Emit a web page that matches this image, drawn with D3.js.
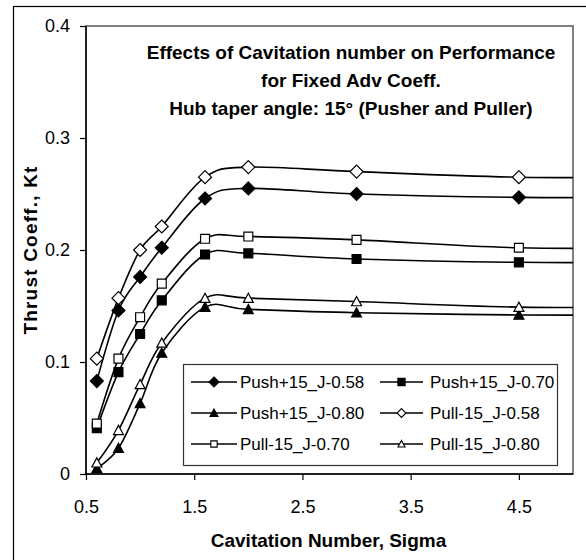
<!DOCTYPE html>
<html>
<head>
<meta charset="utf-8">
<script src="https://cdn.jsdelivr.net/npm/d3@7"></script>
<style>
  body { margin: 0; background: #fff; }
  text { font-family: "Liberation Sans", Arial, sans-serif; fill: #000; }
</style>
</head>
<body>
<div id="chart"></div>
<script>
// Data
const sigma = [0.6, 0.8, 1.0, 1.2, 1.6, 2.0, 3.0, 4.5];
// the curves run on flat past the axis end
const sigmaTail = 6.0;

const push058 = [0.083, 0.146, 0.176, 0.202, 0.246, 0.255, 0.250, 0.247];
const push070 = [0.041, 0.091, 0.125, 0.155, 0.196, 0.197, 0.192, 0.189];
const push080 = [0.005, 0.023, 0.063, 0.108, 0.149, 0.147, 0.144, 0.142];
const pull058 = [0.103, 0.157, 0.200, 0.221, 0.265, 0.274, 0.270, 0.265];
const pull070 = [0.045, 0.103, 0.140, 0.170, 0.210, 0.212, 0.209, 0.202];
const pull080 = [0.010, 0.039, 0.080, 0.117, 0.157, 0.157, 0.154, 0.149];

const seriesNames = ["Push+15_J-0.58", "Push+15_J-0.70", "Push+15_J-0.80",
                     "Pull-15_J-0.58", "Pull-15_J-0.70", "Pull-15_J-0.80"];
const seriesValues = [push058, push070, push080, pull058, pull070, pull080];
const seriesShapes = ["diamond", "square", "triangle", "diamond", "square", "triangle"];
const seriesFilled = [true, true, true, false, false, false];
// legend is filled row by row, two columns
const legendOrder = [0, 1, 2, 3, 4, 5];

const xTicks = [0.5, 1.5, 2.5, 3.5, 4.5];
const yTicks = [0, 0.1, 0.2, 0.3, 0.4];

const titleLines = ["Effects of Cavitation number on Performance",
                    "for Fixed Adv Coeff.",
                    "Hub taper angle: 15\u00b0 (Pusher and Puller)"];
const xTitle = "Cavitation Number, Sigma";
const yTitle = "Thrust Coeff., Kt";

const W = 586, H = 560;
const plot = {left: 86, top: 26, right: 573, bottom: 474};

const svg = d3.select("#chart").append("svg")
    .attr("width", W)
    .attr("height", H);

// outer chart frame (runs off the picture on right and bottom)
svg.append("rect")
    .attr("x", 13.5).attr("y", 6.5)
    .attr("width", W + 20).attr("height", H + 20)
    .attr("fill", "none")
    .attr("stroke", "#000")
    .attr("stroke-width", 1.2);

const x = d3.scaleLinear().domain([0.5, 5]).range([plot.left, plot.right]);
const y = d3.scaleLinear().domain([0, 0.4]).range([plot.bottom, plot.top]);

// plot area border
svg.append("rect")
    .attr("x", plot.left).attr("y", plot.top)
    .attr("width", plot.right - plot.left).attr("height", plot.bottom - plot.top)
    .attr("fill", "none")
    .attr("stroke", "#808080")
    .attr("stroke-width", 2);

svg.append("defs").append("clipPath").attr("id", "plotclip")
    .append("rect")
    .attr("x", plot.left).attr("y", plot.top - 2)
    .attr("width", plot.right - plot.left).attr("height", plot.bottom - plot.top + 4);

// axes
const xAxis = d3.axisBottom(x).tickValues(xTicks).tickSize(6).tickPadding(20)
    .tickFormat(d3.format(".1f"));
const yAxis = d3.axisLeft(y).tickValues(yTicks).tickSize(6).tickPadding(10)
    .tickFormat(d => d === 0 ? "0" : d3.format(".1f")(d));

const gx = svg.append("g")
    .attr("transform", "translate(0," + plot.bottom + ")")
    .call(xAxis);
const gy = svg.append("g")
    .attr("transform", "translate(" + plot.left + ",0)")
    .call(yAxis);

[gx, gy].forEach(g => {
    g.select(".domain").attr("stroke", "#000").attr("stroke-width", 1.5);
    g.selectAll(".tick line").attr("stroke", "#000").attr("stroke-width", 1.2);
    g.selectAll(".tick text")
        .attr("font-size", 18)
        .attr("font-family", "'Liberation Sans', Arial, sans-serif")
        .attr("fill", "#000");
});
gx.select(".domain").attr("d", "M" + plot.left + ",0H" + plot.right);
gy.select(".domain").attr("d", "M0," + plot.top + "V" + plot.bottom);

// marker shapes
function markerPath(shape, s) {
    if (shape === "diamond") {
        return "M0," + (-s) + "L" + s + ",0L0," + s + "L" + (-s) + ",0Z";
    }
    if (shape === "square") {
        const h = s * 0.72;
        return "M" + (-h) + "," + (-h) + "H" + h + "V" + h + "H" + (-h) + "Z";
    }
    const h = s * 0.8;
    return "M0," + (-h) + "L" + h + "," + (h * 0.85) + "L" + (-h) + "," + (h * 0.85) + "Z";
}

const line = d3.line()
    .x(d => x(d[0]))
    .y(d => y(d[1]))
    .curve(d3.curveCatmullRom.alpha(0));

const lines = svg.append("g").attr("clip-path", "url(#plotclip)");
seriesValues.forEach((vals, i) => {
    const pts = sigma.map((s, j) => [s, vals[j]]);
    pts.push([sigmaTail, vals[vals.length - 1]]);
    lines.append("path")
        .datum(pts)
        .attr("fill", "none")
        .attr("stroke", "#000")
        .attr("stroke-width", 1.6)
        .attr("d", line);
});

seriesValues.forEach((vals, i) => {
    svg.append("g").selectAll("path")
        .data(sigma.map((s, j) => [s, vals[j]]))
        .join("path")
        .attr("transform", d => "translate(" + x(d[0]) + "," + y(d[1]) + ")")
        .attr("d", markerPath(seriesShapes[i], seriesShapes[i] === "diamond" ? 6.5 : 6.2))
        .attr("fill", seriesFilled[i] ? "#000" : "#fff")
        .attr("stroke", "#000")
        .attr("stroke-width", 1.2);
});

// legend
const legend = svg.append("g");
legend.append("rect")
    .attr("x", 183.5).attr("y", 364.5)
    .attr("width", 374).attr("height", 101)
    .attr("fill", "#fff")
    .attr("stroke", "#333")
    .attr("stroke-width", 1.2);

legendOrder.forEach((si, k) => {
    const col = k % 2, row = Math.floor(k / 2);
    const lx = col === 0 ? 191 : 380;
    const ly = 382 + row * 31;
    const g = legend.append("g").attr("transform", "translate(" + lx + "," + ly + ")");
    g.append("line")
        .attr("x1", 0).attr("x2", col === 0 ? 46 : 43)
        .attr("y1", 0).attr("y2", 0)
        .attr("stroke", "#000").attr("stroke-width", 1.6);
    g.append("path")
        .attr("transform", "translate(" + (col === 0 ? 23 : 21.5) + ",0)")
        .attr("d", markerPath(seriesShapes[si], seriesFilled[si] ? 5 : 4.4))
        .attr("fill", seriesFilled[si] ? "#000" : "#fff")
        .attr("stroke", "#000").attr("stroke-width", 1.1);
    g.append("text")
        .attr("x", col === 0 ? 49 : 50)
        .attr("y", 6)
        .attr("font-size", 17)
        .text(seriesNames[si]);
});

// title
svg.append("g").selectAll("text")
    .data(titleLines)
    .join("text")
    .attr("x", 351)
    .attr("y", (d, i) => 59 + i * 28)
    .attr("text-anchor", "middle")
    .attr("font-size", 19)
    .attr("font-weight", "bold")
    .text(d => d);

// axis titles
svg.append("text")
    .attr("x", (plot.left + plot.right) / 2 - 1)
    .attr("y", 547)
    .attr("text-anchor", "middle")
    .attr("font-size", 19)
    .attr("font-weight", "bold")
    .text(xTitle);

svg.append("text")
    .attr("transform", "translate(37," + ((plot.top + plot.bottom) / 2) + ") rotate(-90)")
    .attr("text-anchor", "middle")
    .attr("font-size", 19)
    .attr("font-weight", "bold")
    .attr("letter-spacing", 1.2)
    .text(yTitle);
</script>
</body>
</html>
